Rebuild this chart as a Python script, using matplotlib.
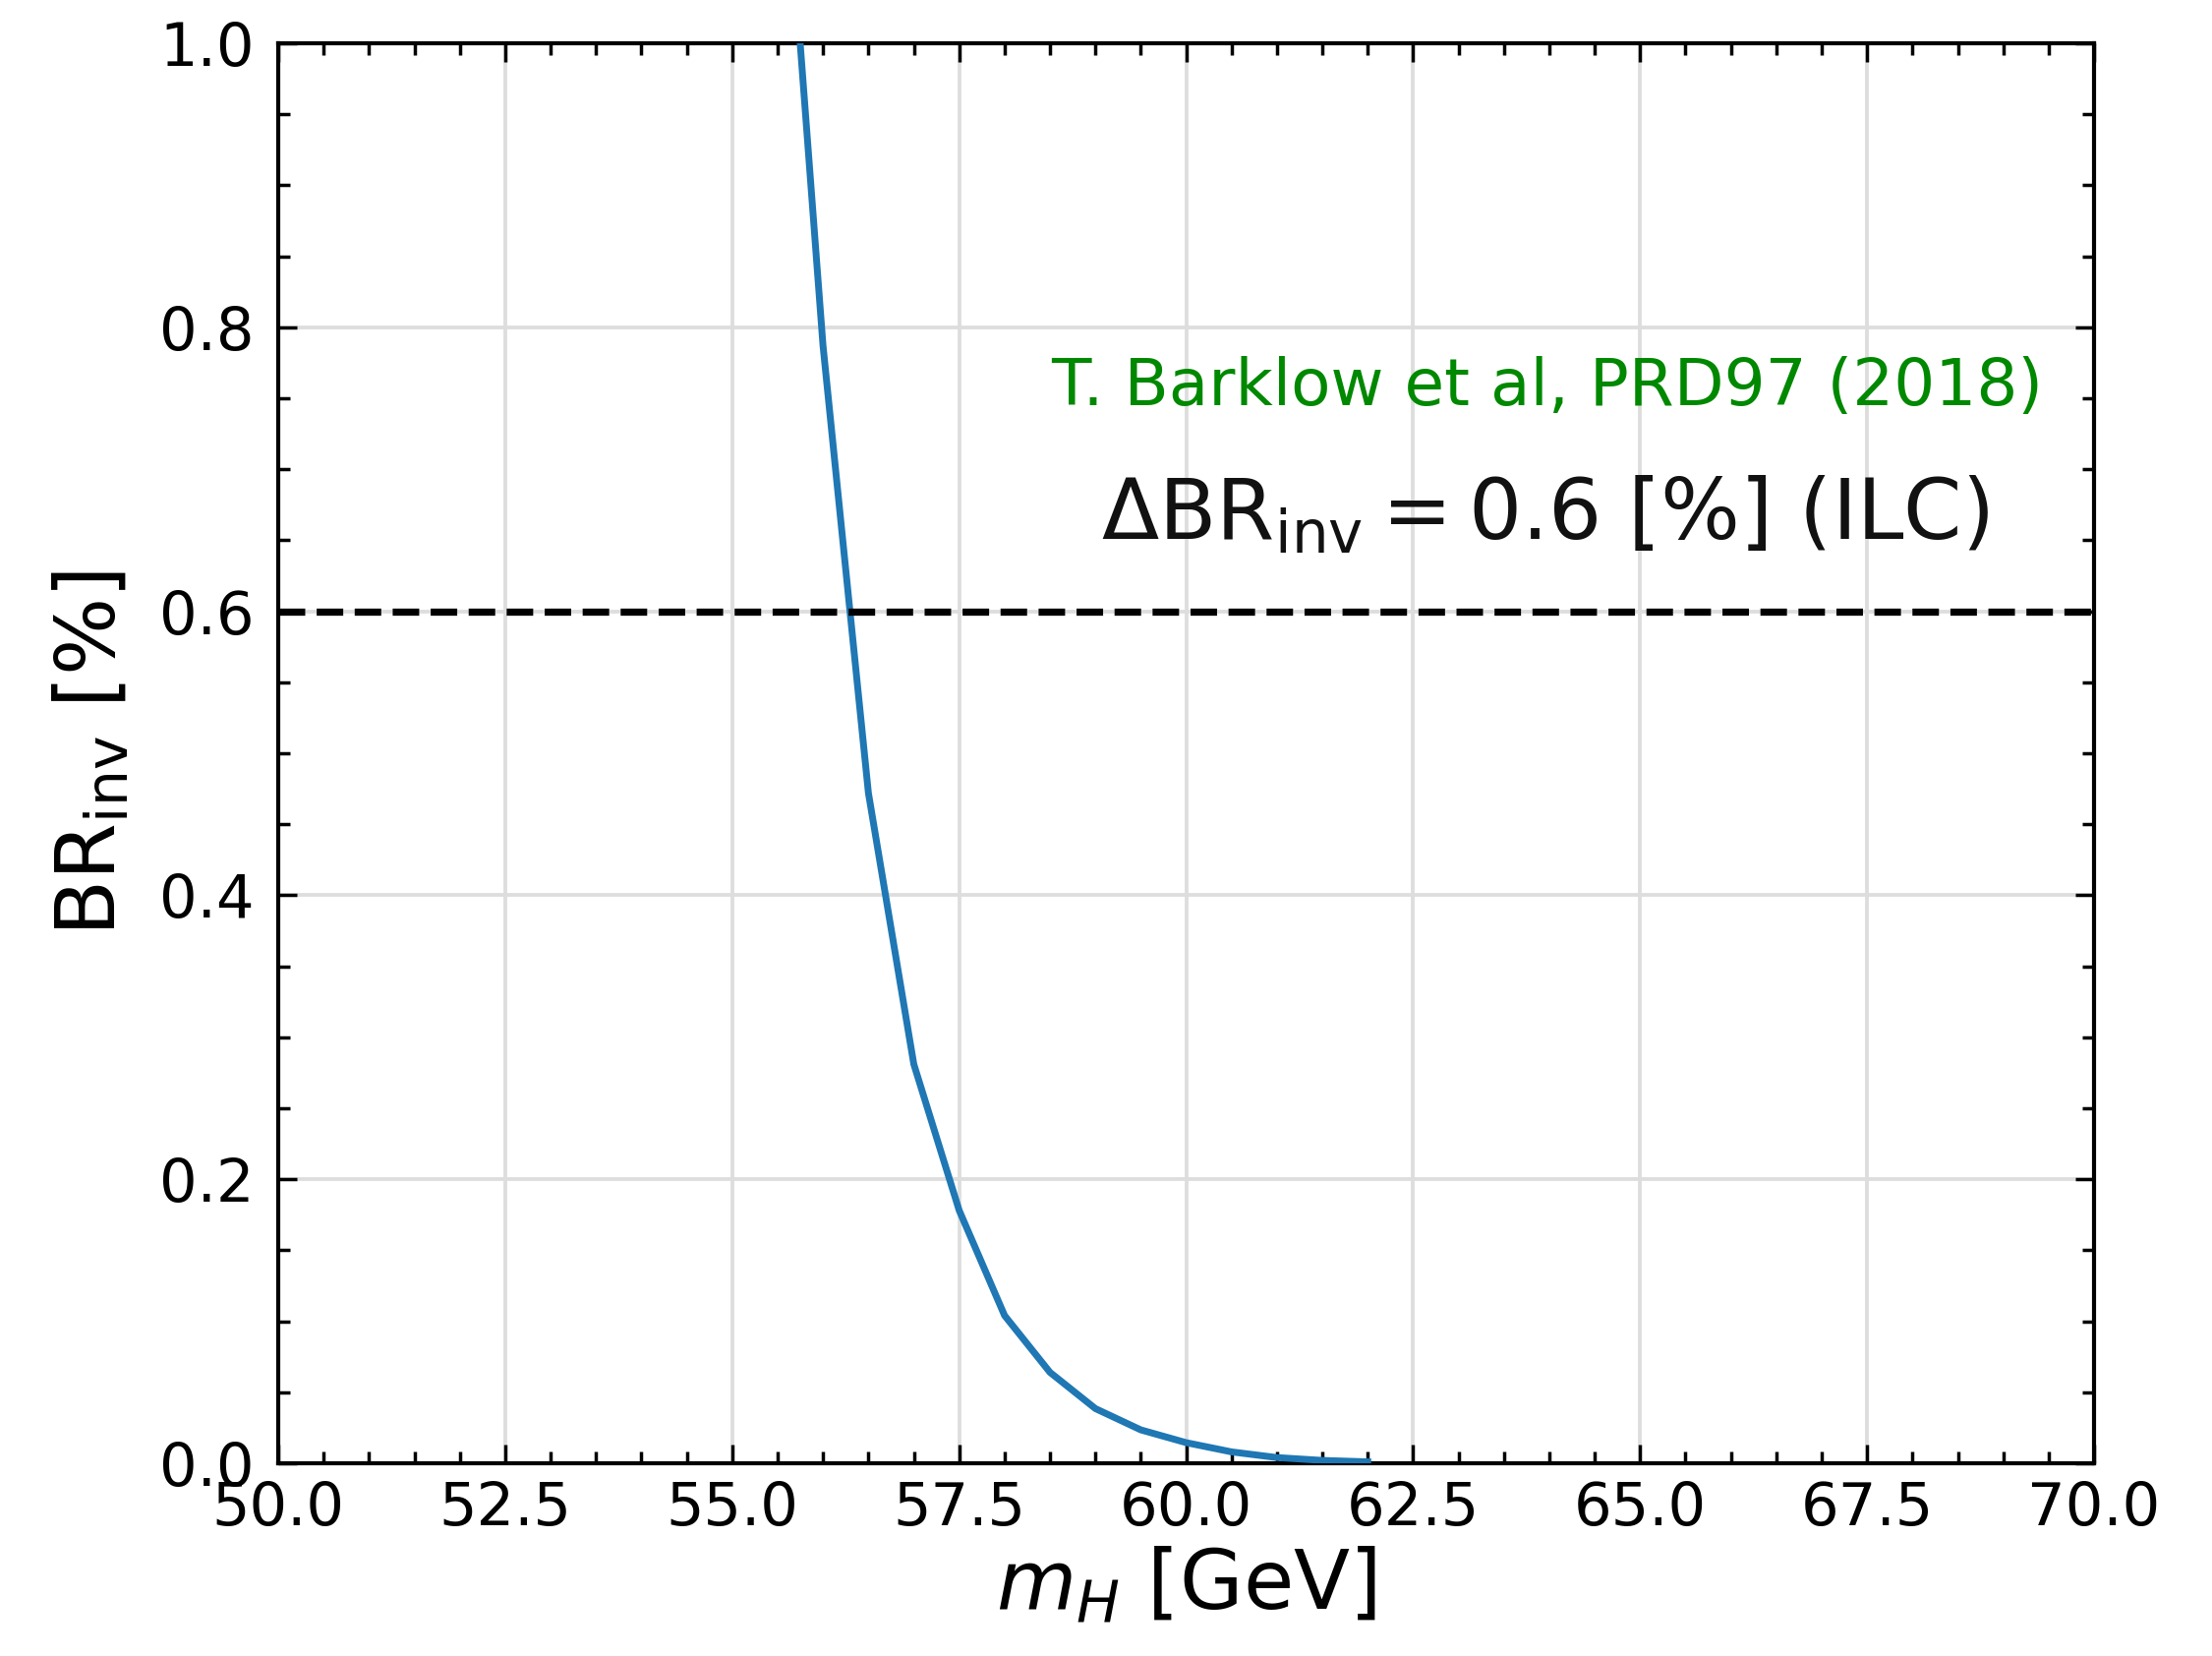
import numpy as np
import matplotlib
matplotlib.use("Agg")
import matplotlib.pyplot as plt
from matplotlib.ticker import MultipleLocator

# Data
m_H = [55.5, 56.0, 56.5, 57.0, 57.5, 58.0, 58.5, 59.0, 59.5, 60.0, 60.5, 61.0, 61.5, 62.0]
br_inv = [1.21, 0.787, 0.472, 0.281, 0.178, 0.104, 0.064, 0.0385, 0.0235, 0.0145,
          0.008, 0.004, 0.002, 0.001]
ilc_limit = 0.6
x_ticks = [50.0, 52.5, 55.0, 57.5, 60.0, 62.5, 65.0, 67.5, 70.0]
y_ticks = [0.0, 0.2, 0.4, 0.6, 0.8, 1.0]

plt.rcParams['font.family'] = ['DejaVu Sans']
plt.rcParams['mathtext.fontset'] = 'dejavusans'

fig = plt.figure(figsize=(9, 6.736), dpi=250)
ax = fig.add_axes([0.1258, 0.1164, 0.8209, 0.8575])

ax.plot(m_H, br_inv, color='#1f77b4', lw=2.0, zorder=3)
ax.axhline(ilc_limit, color='black', ls='--', lw=2.1, zorder=3)

ax.set_xlim(50, 70)
ax.set_ylim(0, 1.0)
ax.set_xticks(x_ticks)
ax.set_yticks(y_ticks)
ax.set_xticklabels([f"{v:.1f}" for v in x_ticks])
ax.set_yticklabels([f"{v:.1f}" for v in y_ticks])
ax.xaxis.set_minor_locator(MultipleLocator(0.5))
ax.yaxis.set_minor_locator(MultipleLocator(0.05))

ax.grid(True, which='major', color='#dddddd', lw=1.1, zorder=0)
ax.tick_params(which='both', direction='in', top=True, right=True, width=1.0, color='black')
ax.tick_params(which='major', length=5.5, labelsize=17.5)
ax.tick_params(axis='x', which='major', pad=5)
ax.tick_params(axis='y', which='major', pad=7)
ax.tick_params(which='minor', length=3.5)
for s in ax.spines.values():
    s.set_linewidth(1.2)

ax.set_xlabel(r'$m_H$ [GeV]', fontsize=24, labelpad=2)
ax.set_ylabel(r'$\mathrm{BR_{inv}}$ [%]', fontsize=24, labelpad=8)

ax.text(69.44, 0.745, 'T. Barklow et al, PRD97 (2018)', color='#008800',
        fontsize=19, ha='right', va='baseline')
ax.text(68.84, 0.65, r'$\Delta\mathrm{BR_{inv}} = 0.6$ [%] (ILC)', color='#111111',
        fontsize=24.5, ha='right', va='baseline')

fig.savefig('out.png', dpi=250)
